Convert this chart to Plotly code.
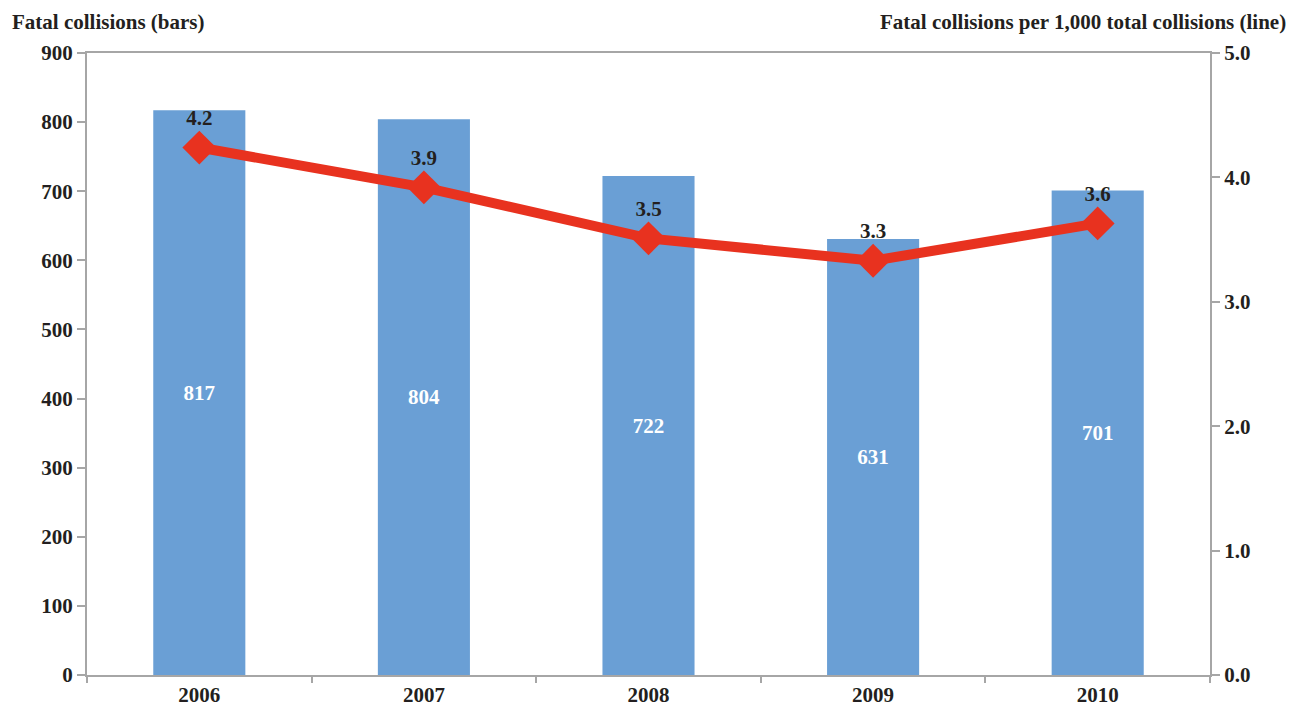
import plotly.graph_objects as go

years = ["2006", "2007", "2008", "2009", "2010"]
fatal_collisions = [817, 804, 722, 631, 701]
rate_per_1000 = [4.24, 3.92, 3.51, 3.33, 3.63]
rate_labels = ["4.2", "3.9", "3.5", "3.3", "3.6"]
left_ticks = [0, 100, 200, 300, 400, 500, 600, 700, 800, 900]
right_ticks = [0, 1, 2, 3, 4, 5]

FONT = "Liberation Serif"
FS = 21
BAR = "#6A9FD5"
RED = "#E8321F"
AXIS = "#A6A6A6"
TXT = "#231F20"

fig = go.Figure()
fig.add_trace(go.Bar(
    x=years, y=fatal_collisions, marker_color=BAR, marker_line_width=0,
    width=0.41, text=[str(v) for v in fatal_collisions],
    textposition="inside", insidetextanchor="middle",
    textfont=dict(family=FONT, size=FS, color="white", weight="bold"),
    yaxis="y", showlegend=False, cliponaxis=False,
))
fig.add_trace(go.Scatter(
    x=years, y=rate_per_1000, mode="lines+markers+text",
    line=dict(color=RED, width=10),
    marker=dict(symbol="diamond", size=26, color=RED),
    text=rate_labels, textposition="top center",
    textfont=dict(family=FONT, size=FS, color=TXT, weight="bold"),
    yaxis="y2", showlegend=False, cliponaxis=False,
))

tf = dict(family=FONT, size=FS, color=TXT, weight="bold")
fig.update_layout(
    width=1290, height=703,
    margin=dict(l=79, r=88, t=45, b=36, autoexpand=False),
    plot_bgcolor="white", paper_bgcolor="white",
    font=dict(family=FONT, size=FS, color=TXT),
    xaxis=dict(
        showline=True, linecolor=AXIS, linewidth=2, mirror=True,
        ticks="outside", tickcolor=AXIS, ticklen=6, tickwidth=2,
        tickson="boundaries", showgrid=False, automargin=False,
        tickfont=tf,
    ),
    yaxis=dict(
        range=[0, 900], tickvals=left_ticks, showline=True, linecolor=AXIS,
        linewidth=2, ticks="outside", tickcolor=AXIS, ticklen=8, tickwidth=2,
        showgrid=False, zeroline=False, automargin=False,
        tickfont=tf,
    ),
    yaxis2=dict(
        range=[0, 5], tickvals=right_ticks, tickformat=".1f", overlaying="y",
        side="right", showline=True, linecolor=AXIS, linewidth=2,
        ticks="outside", tickcolor=AXIS, ticklen=8, tickwidth=2,
        showgrid=False, zeroline=False, automargin=False,
        tickfont=tf,
    ),
    annotations=[
        dict(text="<b>Fatal collisions (bars)</b>", xref="paper", yref="paper",
             x=-0.0686, y=1.028, xanchor="left", yanchor="bottom", showarrow=False,
             font=dict(family=FONT, size=FS, color=TXT)),
        dict(text="<b>Fatal collisions per 1,000 total collisions (line)</b>",
             xref="paper", yref="paper", x=1.0695, y=1.028, xanchor="right",
             yanchor="bottom", showarrow=False,
             font=dict(family=FONT, size=FS, color=TXT)),
    ],
)
fig.write_html("out.html")
